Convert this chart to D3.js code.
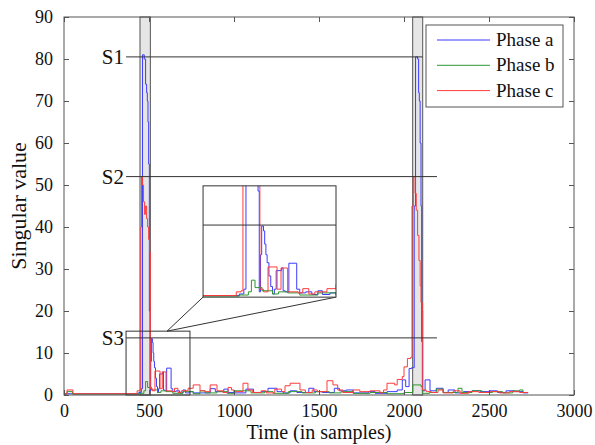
<!DOCTYPE html>
<html><head><meta charset="utf-8">
<script src="https://cdn.jsdelivr.net/npm/d3@7"></script>
<style>body{margin:0;background:#fff} text{font-family:'Liberation Serif','Times New Roman',serif}</style>
</head><body>
<svg id="c" width="595" height="445"></svg>
<script>
// ---- data ----
const xTicks = [0, 500, 1000, 1500, 2000, 2500, 3000];
const yTicks = [0, 10, 20, 30, 40, 50, 60, 70, 80, 90];
const seriesNames = ["Phase a", "Phase b", "Phase c"];

const blueT = [0,440,455,462,472,480,486,490,494,498,502,506,510,514,520,524,528,532,538,544,550,556,562,580,585,592,604,630,640,660,680,700,715,740,760,860,890,940,965,1000,1070,1115,1160,1200,1253,1290,1330,1370,1440,1470,1520,1590,1620,1660,1700,1790,1830,1900,1960,1990,2010,2030,2045,2060,2068,2080,2086,2090,2095,2100,2104,2108,2124,2153,2190,2230,2260,2300,2350,2400,2450,2500,2550,2600,2650,2700,2730];
const blueV = [0.3,0.6,1.5,81,80,74,72,70,65,55,20,1,8,13.4,12.5,10,8,6.5,4,2,0.6,1.5,5,5.5,1.2,1,6.4,1.5,0.8,1,0.5,1.2,0.5,0.8,0.5,1.5,0.8,1.4,0.6,0.5,1.4,0.6,0.8,1.6,0.8,0.5,1.0,0.6,1.6,0.8,0.6,1.6,1.0,1.2,0.5,0.8,0.4,0.8,1.2,3.6,2,6.3,6.5,45,80.5,80,72,70,60,45,12.7,1,3.6,1,1.6,0.6,1.2,0.5,0.8,1,0.8,1,0.6,1,0.8,0.5,0.5];

const greenT = [0,18,50,440,470,480,492,515,550,570,600,640,700,760,800,830,900,960,1000,1100,1180,1230,1320,1400,1480,1560,1630,1700,1800,1900,2000,2052,2100,2108,2150,2190,2230,2318,2341,2400,2460,2520,2580,2640,2680,2700,2730];
const greenV = [0.2,0.8,0.2,0.4,1,3.2,1.8,1.2,0.6,1.0,0.8,0.4,0.8,0.3,1.0,0.5,0.8,0.4,1.0,0.5,0.8,0.4,0.8,0.5,0.8,0.5,0.8,0.4,0.6,0.3,0.6,2.4,2.0,0.4,0.6,1.4,0.6,1.6,0.6,1,0.6,0.8,0.5,1.0,1.2,0.6,0.6];

const redT = [0,18,53,430,446,452,456,462,468,474,480,486,492,498,504,508,520,535,565,578,600,635,650,670,690,730,760,800,830,860,900,935,965,985,1000,1053,1082,1110,1160,1190,1240,1280,1300,1330,1388,1420,1460,1490,1547,1582,1610,1640,1700,1740,1800,1859,1880,1900,1945,1960,1990,2000,2020,2040,2047,2055,2065,2072,2080,2088,2095,2100,2108,2110,2130,2160,2200,2230,2290,2330,2380,2440,2500,2560,2620,2680,2730];
const redV = [0.3,1.2,0.3,1,1.2,40,52,50,46,43,45,42,40,37,34,1.5,1,5.7,1.5,5.5,1,0.8,1.6,0.6,1,1.6,2.4,1,0.8,2.4,1,0.6,1.8,1.2,0.8,2.8,1.2,0.6,1,0.5,1.4,0.8,2.2,2.8,1.2,0.6,1.2,0.8,3.4,2.4,1.2,0.6,1.2,0.8,1,0.5,1.2,2.8,2.4,3.7,4.4,6.7,8.7,9,45,52,48,44,38,32,26,22,20,1.2,0.8,0.6,1.2,0.5,1,0.4,0.8,0.6,0.8,0.5,0.8,0.6,0.6];

const thresholds = [80.5, 52, 13.6];
const thresholdLabels = ["S1", "S2", "S3"];
const thresholdEnds = [2110, 2194, 2194];
const shadeStarts = [447, 2051];
const shadeEnds = [508, 2110];
const zoomX = [365, 741], zoomY = [0, 15.2], zoomAnchorT = 606;
const insetX = [818, 1600], insetY = [23.3, 49.8];
const insetDomX = [320, 760], insetDomY = [0, 21];

// ---- layout ----
const W = 595, H = 445;
const m = {l: 64, r: 21, t: 17, b: 50};
const svg = d3.select("#c");
const x = d3.scaleLinear().domain([0, 3000]).range([m.l, W - m.r]);
const y = d3.scaleLinear().domain([0, 90]).range([H - m.b, m.t]);
const font = "'Liberation Serif','Times New Roman',serif";
const colors = ["#3b3bff", "#2f962f", "#ff3b3b"];

const mk = (T, V) => T.map((t, i) => [t, V[i]]);
const series = [mk(blueT, blueV), mk(greenT, greenV), mk(redT, redV)];

svg.append("rect").attr("width", W).attr("height", H).attr("fill", "#fff");
const defs = svg.append("defs");
defs.append("clipPath").attr("id", "clipMain").append("rect")
  .attr("x", x(0)).attr("y", y(90)).attr("width", x(3000) - x(0)).attr("height", y(0) - y(90));

// shading
shadeStarts.forEach((s, i) => {
  svg.append("rect").attr("x", x(s)).attr("y", y(90)).attr("width", x(shadeEnds[i]) - x(s))
    .attr("height", y(0) - y(90)).attr("fill", "#e6e6e6").attr("stroke", "#555").attr("stroke-width", 1);
});

// data lines
const lineMain = d3.line().x(d => x(d[0])).y(d => y(d[1])).curve(d3.curveStepAfter);
const gData = svg.append("g").attr("clip-path", "url(#clipMain)");
series.forEach((s, i) => {
  gData.append("path").attr("d", lineMain(s)).attr("fill", "none")
    .attr("stroke", colors[i]).attr("stroke-width", 1);
});

// threshold lines
thresholds.forEach((v, i) => {
  svg.append("line").attr("x1", x(zoomX[0])).attr("x2", x(thresholdEnds[i]))
    .attr("y1", y(v)).attr("y2", y(v)).attr("stroke", "#333").attr("stroke-width", 1);
  svg.append("text").attr("x", x(zoomX[0]) - 2).attr("y", y(v) + 7)
    .attr("text-anchor", "end").attr("font-family", font).attr("font-size", 21)
    .attr("fill", "#111").text(thresholdLabels[i]);
});

// zoom rectangle
svg.append("rect").attr("x", x(zoomX[0])).attr("y", y(zoomY[1]))
  .attr("width", x(zoomX[1]) - x(zoomX[0])).attr("height", y(zoomY[0]) - y(zoomY[1]))
  .attr("fill", "none").attr("stroke", "#333").attr("stroke-width", 1);

// connectors
const ax = x(zoomAnchorT), ay = y(zoomY[1]);
[insetX[0], insetX[1]].forEach(t => {
  svg.append("line").attr("x1", ax).attr("y1", ay).attr("x2", x(t)).attr("y2", y(insetY[0]))
    .attr("stroke", "#333").attr("stroke-width", 1);
});

// inset
const ix = d3.scaleLinear().domain(insetDomX).range([x(insetX[0]), x(insetX[1])]);
const iy = d3.scaleLinear().domain(insetDomY).range([y(insetY[0]), y(insetY[1])]);
defs.append("clipPath").attr("id", "clipInset").append("rect")
  .attr("x", ix.range()[0]).attr("y", iy.range()[1])
  .attr("width", ix.range()[1] - ix.range()[0]).attr("height", iy.range()[0] - iy.range()[1]);
svg.append("rect").attr("x", ix.range()[0]).attr("y", iy.range()[1])
  .attr("width", ix.range()[1] - ix.range()[0]).attr("height", iy.range()[0] - iy.range()[1])
  .attr("fill", "#fff");
const lineInset = d3.line().x(d => ix(d[0])).y(d => iy(d[1])).curve(d3.curveStepAfter);
const gIn = svg.append("g").attr("clip-path", "url(#clipInset)");
series.forEach((s, i) => {
  gIn.append("path").attr("d", lineInset(s)).attr("fill", "none")
    .attr("stroke", colors[i]).attr("stroke-width", 1);
});
gIn.append("line").attr("x1", ix.range()[0]).attr("x2", ix.range()[1])
  .attr("y1", iy(thresholds[2])).attr("y2", iy(thresholds[2])).attr("stroke", "#333");
svg.append("rect").attr("x", ix.range()[0]).attr("y", iy.range()[1])
  .attr("width", ix.range()[1] - ix.range()[0]).attr("height", iy.range()[0] - iy.range()[1])
  .attr("fill", "none").attr("stroke", "#333").attr("stroke-width", 1);

// axes frame
svg.append("rect").attr("x", x(0)).attr("y", y(90)).attr("width", x(3000) - x(0))
  .attr("height", y(0) - y(90)).attr("fill", "none").attr("stroke", "#555").attr("stroke-width", 1);

const tl = 5;
const axB = svg.append("g").attr("transform", `translate(0,${y(0)})`)
  .call(d3.axisBottom(x).tickValues(xTicks).tickSize(-tl).tickPadding(9).tickFormat(d3.format("d")));
const axT = svg.append("g").attr("transform", `translate(0,${y(90)})`)
  .call(d3.axisTop(x).tickValues(xTicks).tickSize(-tl).tickFormat(""));
const axL = svg.append("g").attr("transform", `translate(${x(0)},0)`)
  .call(d3.axisLeft(y).tickValues(yTicks).tickSize(-tl).tickPadding(11).tickFormat(d3.format("d")));
const axR = svg.append("g").attr("transform", `translate(${x(3000)},0)`)
  .call(d3.axisRight(y).tickValues(yTicks).tickSize(-tl).tickFormat(""));
[axB, axT, axL, axR].forEach(g => {
  g.attr("font-family", font).attr("font-size", 18);
  g.select(".domain").remove();
  g.selectAll("line").attr("stroke", "#555");
  g.selectAll("text").attr("font-family", font).attr("font-size", 18).attr("fill", "#111");
});

// axis titles
svg.append("text").attr("x", (x(0) + x(3000)) / 2).attr("y", 439).attr("text-anchor", "middle")
  .attr("font-family", font).attr("font-size", 20).attr("fill", "#111").text("Time (in samples)");
svg.append("text").attr("transform", `translate(26,${(y(0) + y(90)) / 2}) rotate(-90)`)
  .attr("text-anchor", "middle").attr("font-family", font).attr("font-size", 22)
  .attr("fill", "#111").text("Singular value");

// legend
const lg = svg.append("g");
lg.append("rect").attr("x", 426).attr("y", 25).attr("width", 137).attr("height", 82)
  .attr("fill", "#fff").attr("stroke", "#555").attr("stroke-width", 1);
seriesNames.forEach((n, i) => {
  const yy = 40 + i * 25.3;
  lg.append("line").attr("x1", 437).attr("x2", 490).attr("y1", yy).attr("y2", yy)
    .attr("stroke", colors[i]).attr("stroke-width", 1);
  lg.append("text").attr("x", 496).attr("y", yy + 6).attr("font-family", font)
    .attr("font-size", 19).attr("fill", "#111").text(n);
});
</script>
</body></html>
